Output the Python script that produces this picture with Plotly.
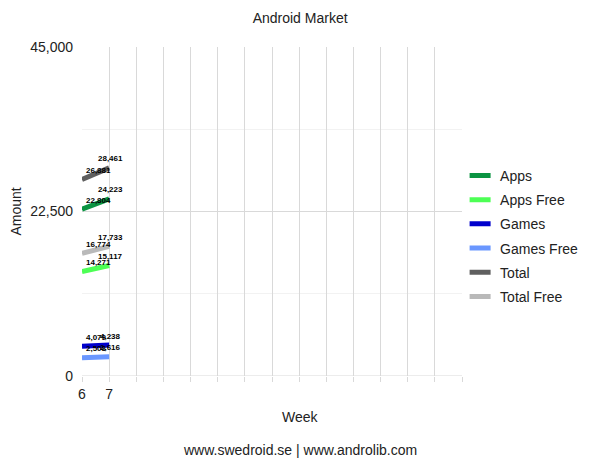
import plotly.graph_objects as go

weeks = [6, 7]
all_weeks = list(range(6, 21))
week_labels = ["6", "7"] + [""] * 13

series_names = ["Apps", "Apps Free", "Games", "Games Free", "Total", "Total Free"]
apps = [22804, 24223]
apps_free = [14271, 15117]
games = [4079, 4238]
games_free = [2508, 2616]
total = [26881, 28461]
total_free = [16774, 17733]
colors = ["#0b9442", "#4dff55", "#0000cc", "#6a97ff", "#5f5f5f", "#b9b9b9"]

values = [apps, apps_free, games, games_free, total, total_free]

FONT = "Liberation Sans, Arial, sans-serif"
fig = go.Figure()
for name, vals, col in zip(series_names, values, colors):
    fig.add_trace(go.Scatter(
        x=weeks, y=vals, name=name, mode="lines",
        line=dict(color=col, width=5),
        showlegend=False, cliponaxis=False,
    ))
    # legend entry with a short thick line symbol
    fig.add_trace(go.Scatter(
        x=[None], y=[None], name=name, mode="markers", legendgroup=name,
        marker=dict(symbol="line-ew", size=15, color=col,
                    line=dict(color=col, width=5)),
        showlegend=True,
    ))
    for j, (w, v) in enumerate(zip(weeks, vals)):
        fig.add_annotation(
            x=w, y=v, text=f"<b>{v:,}</b>", showarrow=False,
            xanchor="left" if j == 0 else "center", yanchor="middle",
            xshift=2 if j == 0 else 1, yshift=9,
            font=dict(size=8, color="#000000", family=FONT),
        )

fig.update_layout(
    width=600, height=463,
    margin=dict(l=74, r=146, t=39, b=95, autoexpand=False),
    paper_bgcolor="white", plot_bgcolor="white",
    font=dict(family=FONT, color="#222222"),
    title=dict(text="Android Market", x=0.574, xref="paper", xanchor="center",
               y=0.978, yanchor="middle",
               font=dict(size=14, color="#222222"), automargin=False),
    showlegend=True,
    legend=dict(x=0.995, xanchor="left", y=0.657, yanchor="top",
                font=dict(size=14, color="#222222"), tracegroupgap=3,
                itemsizing="trace", bgcolor="rgba(0,0,0,0)"),
    xaxis=dict(range=[6, 20], tickvals=all_weeks, ticktext=week_labels,
               showgrid=True, gridcolor="#d9d9d9", gridwidth=1,
               ticks="outside", ticklen=5, tickcolor="#d9d9d9",
               tickfont=dict(size=14, color="#222222"),
               zeroline=False, showline=False, automargin=False),
    yaxis=dict(range=[0, 45000], tickvals=[0, 22500, 45000],
               ticktext=["0", "22,500", "45,000"],
               showgrid=True, gridcolor="#d9d9d9", gridwidth=1,
               minor=dict(tickvals=[11250, 33750], showgrid=True, gridcolor="#f2f2f2", ticks=""),
               tickfont=dict(size=14, color="#222222"),
               zeroline=False, showline=False, ticks="", ticklabelstandoff=8,
               automargin=False,
               title=dict(text="Amount", font=dict(size=14, color="#222222"), standoff=30)),
)
# x-axis title and footer, centred on the whole figure
fig.add_annotation(text="Week", xref="paper", yref="paper",
                   x=0.574, y=-0.125, xanchor="center", yanchor="middle", showarrow=False,
                   font=dict(size=14, color="#222222", family=FONT))
fig.add_annotation(text="www.swedroid.se | www.androlib.com", xref="paper", yref="paper",
                   x=0.574, y=-0.225, xanchor="center", yanchor="middle", showarrow=False,
                   font=dict(size=14, color="#222222", family=FONT))
fig.add_shape(type="line", xref="paper", yref="y", x0=0, x1=1, y0=0, y1=0,
              line=dict(color="#d9d9d9", width=1), layer="below")

fig.write_html("out.html")
